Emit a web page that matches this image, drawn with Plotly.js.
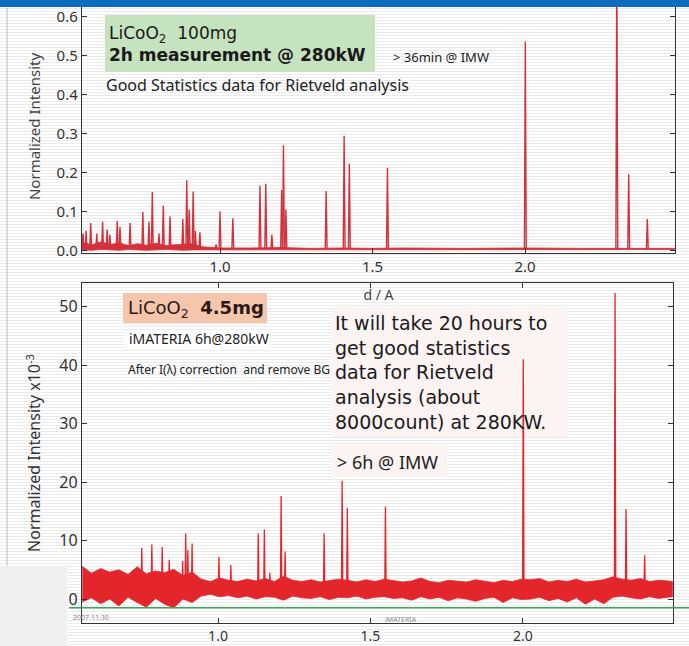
<!DOCTYPE html>
<html><head><meta charset="utf-8">
<script src="https://cdn.plot.ly/plotly-3.0.1.min.js"></script>
<style>
html,body{margin:0;padding:0;}
body{width:689px;height:646px;overflow:hidden;background:repeating-linear-gradient(to bottom,#ffffff 0px,#ffffff 2px,#ebebeb 2px,#ebebeb 3px);}
#chart{width:689px;height:646px;}
</style></head><body><div id="chart"></div>
<script>
// ---- Top panel: LiCoO2 100mg, 2h @ 280kW ----
var topPeakD = [0.551,0.561,0.576,0.596,0.615,0.630,0.639,0.663,0.672,0.705,0.747,0.767,0.778,0.800,0.814,0.836,0.878,0.891,0.899,0.912,0.919,0.934,0.987,1.000,1.042,1.131,1.150,1.170,1.202,1.208,1.216,1.348,1.407,1.424,1.549,2.001,2.301,2.340,2.401];
var topPeakI = [0.043,0.050,0.070,0.043,0.073,0.053,0.040,0.075,0.060,0.070,0.098,0.073,0.150,0.043,0.115,0.087,0.080,0.180,0.105,0.151,0.050,0.046,0.015,0.100,0.082,0.166,0.171,0.040,0.155,0.270,0.105,0.152,0.294,0.222,0.212,0.536,0.750,0.195,0.080];
var topBandD  = [0.548,0.58,0.61,0.64,0.67,0.70,0.73,0.76,0.79,0.82,0.85,0.88,0.91,0.94,0.97,1.00,1.10,1.20,1.30,1.40,1.50,1.60,1.80,2.00,2.20,2.40,2.49];
var topBandHi = [0.020,0.014,0.022,0.015,0.019,0.012,0.017,0.013,0.018,0.012,0.014,0.016,0.017,0.009,0.007,0.006,0.006,0.007,0.005,0.006,0.005,0.006,0.005,0.006,0.005,0.006,0.005];
var topBandLo = [0.001,0.000,0.002,0.001,0.000,0.002,0.001,0.000,0.001,0.002,0.001,0.000,0.001,0.002,0.002,0.002,0.002,0.002,0.002,0.002,0.002,0.002,0.002,0.002,0.002,0.002,0.002];
var topTicks = [0.0,0.1,0.2,0.3,0.4,0.5,0.6];
var topTickText = ['0.0','0.1','0.2','0.3','0.4','0.5','0.6'];

// ---- Bottom panel: LiCoO2 4.5mg, 6h @ 280kW (x10^-3) ----
var botPeakD = [0.750,0.783,0.817,0.840,0.884,0.894,0.901,0.915,1.003,1.042,1.132,1.152,1.170,1.207,1.220,1.348,1.407,1.424,1.549,2.001,2.302,2.338,2.399];
var botPeakI = [8.7,9.3,8.9,6.7,6.5,11.2,8.4,9.5,7.2,5.8,11.2,11.9,4.5,17.6,8.1,11.2,20.2,15.6,15.8,41.0,52.3,15.4,7.5];
var botBandD = [0.555,0.585,0.615,0.645,0.675,0.705,0.735,0.765,0.795,0.825,0.855,0.885,0.915,0.945,0.975,1.005,1.035,1.065,1.095,1.125,1.155,1.185,1.215,1.245,1.275,1.305,1.335,1.365,1.395,1.425,1.455,1.485,1.515,1.545,1.575,1.605,1.635,1.665,1.695,1.725,1.755,1.785,1.815,1.845,1.875,1.905,1.935,1.965,1.995,2.025,2.055,2.085,2.115,2.145,2.175,2.205,2.235,2.265,2.295,2.325,2.355,2.385,2.415,2.445,2.475,2.49];
var botBandHi = [5.6,4.4,5.2,4.6,5.0,4.2,5.5,4.3,4.8,4.5,5.1,4.0,4.6,3.4,3.0,3.6,3.2,3.0,3.4,3.1,3.5,3.0,3.9,3.2,3.0,3.3,2.9,3.1,3.4,3.2,2.9,3.3,3.0,3.4,3.2,2.9,3.1,3.6,3.0,2.8,3.2,3.0,2.9,3.3,3.1,2.8,3.2,3.0,3.4,3.3,3.5,2.9,3.2,3.0,3.4,2.9,3.1,3.3,3.8,3.4,3.2,3.5,3.0,3.2,3.1,3.0];
var botBandLo = [-0.5,0.2,-0.8,0.0,-1.2,0.3,-0.6,-1.4,0.1,-0.9,-1.5,0.0,-0.6,0.5,0.8,0.4,0.6,0.2,0.5,0.0,0.4,0.3,-0.2,0.5,0.2,0.1,0.4,-0.1,0.3,0.2,0.5,0.0,0.3,0.4,0.1,0.2,-0.2,0.4,0.0,0.3,-0.3,0.2,0.0,-0.4,0.1,0.3,-0.6,0.2,-0.1,0.0,0.3,-0.3,0.1,-0.5,0.2,-0.9,0.0,-0.8,0.3,0.5,0.2,0.0,0.4,0.1,0.3,0.4];
var botTicks = [0,10,20,30,40,50];
var botTickText = ['0','10','20','30','40','50'];
var botRefLevel = -1.5;

var dTicks = [1.0,1.5,2.0];
var dTickText = ['1.0','1.5','2.0'];

var W = 689, H = 646;
function px(x){return x/W;}
function py(y){return 1 - y/H;}

function band(d, hi, lo){
  var x = d.slice(), y = hi.slice();
  for (var i = d.length-1; i >= 0; i--){ x.push(d[i]); y.push(lo[i]); }
  return {x:x, y:y};
}
function spikes(d, h, base, w){
  var x=[], y=[];
  for (var i=0;i<d.length;i++){ x.push(d[i]-w, d[i], d[i]+w, null); y.push(base, h[i], base, null); }
  return {x:x, y:y};
}

var TOPRED = '#d3323c', BOTRED = '#e3262b';
var tb = band(topBandD, topBandHi, topBandLo);
var ts = spikes(topPeakD, topPeakI, 0.004, 0.003);
var bb = band(botBandD, botBandHi, botBandLo);
var bs = spikes(botPeakD, botPeakI, 1.5, 0.0022);

var traces = [
  {x:tb.x, y:tb.y, xaxis:'x', yaxis:'y', mode:'lines', fill:'toself', fillcolor:TOPRED, line:{color:TOPRED, width:0.8}, hoverinfo:'skip', showlegend:false},
  {x:ts.x, y:ts.y, xaxis:'x', yaxis:'y', mode:'lines', line:{color:TOPRED, width:1.4}, connectgaps:false, hoverinfo:'skip', showlegend:false},
  {x:bb.x, y:bb.y, xaxis:'x2', yaxis:'y2', mode:'lines', fill:'toself', fillcolor:BOTRED, line:{color:BOTRED, width:0.8}, hoverinfo:'skip', showlegend:false},
  {x:bs.x, y:bs.y, xaxis:'x2', yaxis:'y2', mode:'lines', line:{color:BOTRED, width:1.3}, connectgaps:false, hoverinfo:'skip', showlegend:false}
];

var NARROW = '"Noto Sans", "Open Sans", sans-serif';
var GOTH = '"Noto Sans", sans-serif';
var WIDE = '"DejaVu Sans", sans-serif';
var tickFont = {family:NARROW, size:15, color:'#333'};
var axLine = {showline:true, linecolor:'#333', linewidth:1.2, ticks:'inside', ticklen:5, tickcolor:'#333', showgrid:false, zeroline:false, tickmode:'array'};

function ax(extra){ var o = {}; for (var k in axLine) o[k]=axLine[k]; for (var k2 in extra) o[k2]=extra[k2]; return o; }

var layout = {
  width:W, height:H,
  margin:{l:0,r:0,t:0,b:0},
  paper_bgcolor:'rgba(0,0,0,0)', plot_bgcolor:'rgba(0,0,0,0)',
  showlegend:false,
  xaxis: ax({domain:[px(82), px(675)], range:[0.5475, 2.4918], anchor:'y', tickvals:dTicks, ticktext:dTickText, tickfont:tickFont, mirror:false,
    title:{text:'d / A', font:{family:NARROW, size:14, color:'#444'}, standoff:15}}),
  yaxis: ax({domain:[py(253), 1], range:[-0.007, 0.643], anchor:'x', tickvals:topTicks, ticktext:topTickText, tickfont:tickFont, mirror:'ticks',
    title:{text:'Normalized Intensity', font:{family:GOTH, size:15, color:'#444'}, standoff:12}}),
  xaxis2: ax({domain:[px(82), px(673)], range:[0.554, 2.492], anchor:'y2', tickvals:dTicks, ticktext:dTickText, tickfont:{family:NARROW, size:14, color:'#333'}, mirror:'ticks'}),
  yaxis2: ax({domain:[py(623), py(283)], range:[-4.10, 54.02], anchor:'x2', tickvals:botTicks, ticktext:botTickText, tickfont:{family:NARROW, size:16, color:'#333'}, mirror:'ticks',
    title:{text:'Normalized Intensity x10<sup>-3</sup>', font:{family:GOTH, size:16, color:'#333'}, standoff:14}}),
  shapes:[
    {type:'rect', xref:'paper', yref:'paper', x0:0, x1:1, y0:py(7), y1:1, fillcolor:'#0b6ebd', line:{width:0}, layer:'above'},
    {type:'line', xref:'paper', yref:'paper', x0:px(7), x1:px(7), y0:py(8), y1:py(566), line:{color:'#bdbdbd', width:1}, layer:'below'},
    {type:'rect', xref:'paper', yref:'paper', x0:0, x1:px(67), y0:0, y1:py(566), fillcolor:'#f0f0f0', line:{width:0}, layer:'below'},
    {type:'rect', xref:'paper', yref:'paper', x0:px(105), x1:px(375), y0:py(72), y1:py(15), fillcolor:'#c5e3bf', line:{width:0}, layer:'below'},
    {type:'rect', xref:'paper', yref:'paper', x0:px(123), x1:px(267), y0:py(323), y1:py(293), fillcolor:'#f6c6ac', line:{width:0}, layer:'below'},
    {type:'rect', xref:'paper', yref:'paper', x0:px(125), x1:px(270), y0:py(349), y1:py(330), fillcolor:'#ffffff', line:{width:0}, layer:'below'},
    {type:'rect', xref:'paper', yref:'paper', x0:px(332), x1:px(568), y0:py(437), y1:py(307), fillcolor:'#fcf3f3', line:{width:0}, layer:'below'},
    {type:'rect', xref:'paper', yref:'paper', x0:px(332), x1:px(447), y0:py(477), y1:py(445), fillcolor:'#fcf3f3', line:{width:0}, layer:'below'},
    {type:'line', xref:'paper', yref:'y2', x0:px(69), x1:1, y0:botRefLevel, y1:botRefLevel, line:{color:'#3aa65a', width:1.5}}
  ],
  annotations:[
    {xref:'paper', yref:'paper', x:px(107), y:py(44), xanchor:'left', yanchor:'middle', align:'left', showarrow:false,
      text:'LiCoO<sub>2</sub>\u00a0\u00a0100mg<br><b>2h measurement @ 280kW</b>', font:{family:WIDE, size:17, color:'#1a1a1a'}},
    {xref:'paper', yref:'paper', x:px(391), y:py(57), xanchor:'left', yanchor:'middle', showarrow:false, text:'> 36min @ IMW', font:{family:NARROW, size:13, color:'#222'}},
    {xref:'paper', yref:'paper', x:px(104), y:py(85), xanchor:'left', yanchor:'middle', showarrow:false, text:'Good Statistics data for Rietveld analysis', font:{family:NARROW, size:16, color:'#222'}},
    {xref:'paper', yref:'paper', x:px(126), y:py(309), xanchor:'left', yanchor:'middle', showarrow:false, text:'LiCoO<sub>2</sub>\u00a0\u00a0<b>4.5mg</b>', font:{family:WIDE, size:18, color:'#2a1a1a'}},
    {xref:'paper', yref:'paper', x:px(127), y:py(339), xanchor:'left', yanchor:'middle', showarrow:false, text:'iMATERIA 6h@280kW', font:{family:NARROW, size:14, color:'#222'}},
    {xref:'paper', yref:'paper', x:px(126), y:py(370), xanchor:'left', yanchor:'middle', showarrow:false, text:'After I(\u03bb) correction\u00a0\u00a0and remove BG', font:{family:NARROW, size:12, color:'#222'}},
    {xref:'paper', yref:'paper', x:px(333), y:py(372), xanchor:'left', yanchor:'middle', align:'left', showarrow:false,
      text:'It will take 20 hours to<br>get good statistics<br>data for Rietveld<br>analysis (about<br>8000count) at 280KW.', font:{family:WIDE, size:19, color:'#1a1a1a'}},
    {xref:'paper', yref:'paper', x:px(335), y:py(462), xanchor:'left', yanchor:'middle', showarrow:false, text:'> 6h @ IMW', font:{family:NARROW, size:18, color:'#222'}},
    {xref:'paper', yref:'paper', x:px(71), y:py(617), xanchor:'left', yanchor:'middle', showarrow:false, text:'2007.11.30', font:{family:NARROW, size:7, color:'#888'}},
    {xref:'paper', yref:'paper', x:px(383), y:py(619), xanchor:'left', yanchor:'middle', showarrow:false, text:'iMATERIA', font:{family:NARROW, size:7, color:'#888'}}
  ]
};

Plotly.newPlot('chart', traces, layout, {staticPlot:true});
</script></body></html>
